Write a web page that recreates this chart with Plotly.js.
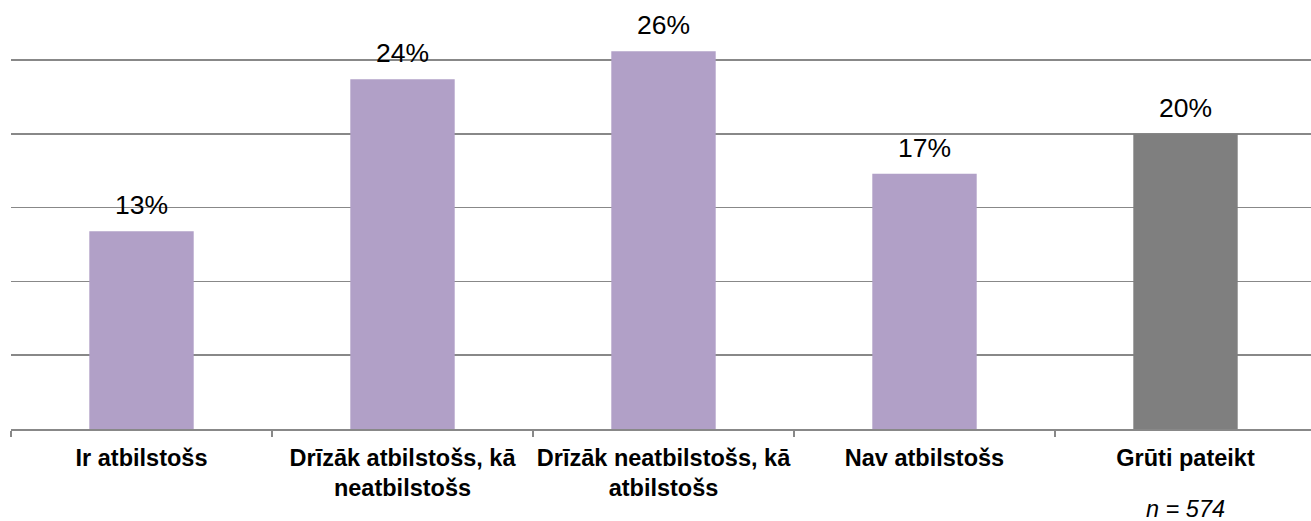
<!DOCTYPE html>
<html>
<head>
<meta charset="utf-8">
<script src="https://cdn.plot.ly/plotly-3.0.1.min.js"></script>
<style>
  html, body { margin: 0; padding: 0; overflow: hidden; background: #fff; }
  #chart { width: 1320px; height: 521px; }
</style>
</head>
<body>
<div id="chart"></div>
<script>
const categories = [
  "Ir atbilstošs",
  "Drīzāk atbilstošs, kā<br>neatbilstošs",
  "Drīzāk neatbilstošs, kā<br>atbilstošs",
  "Nav atbilstošs",
  "Grūti pateikt"
];
const values = [13.4, 23.7, 25.6, 17.3, 20.0];
const valueLabels = ["13%", "24%", "26%", "17%", "20%"];
const barColors = ["#B1A0C7", "#B1A0C7", "#B1A0C7", "#B1A0C7", "#7F7F7F"];
const sampleNote = "<i>n = 574</i>";

const FONT = "'Liberation Sans', Arial, sans-serif";

const trace = {
  type: "bar",
  x: categories,
  y: values,
  marker: { color: barColors },
  width: 0.4,
  hoverinfo: "skip"
};

const annotations = categories.map((c, i) => ({
  x: c,
  y: values[i],
  xref: "x",
  yref: "y",
  text: valueLabels[i],
  showarrow: false,
  yanchor: "bottom",
  yshift: 9,
  font: { family: FONT, size: 26.5, color: "#000" }
}));

annotations.push({
  x: categories[4],
  xref: "x",
  y: -0.186,
  yref: "paper",
  text: sampleNote,
  showarrow: false,
  xanchor: "center",
  yanchor: "middle",
  font: { family: FONT, size: 23.5, color: "#000" }
});

const layout = {
  width: 1320,
  height: 521,
  margin: { l: 11, r: 4, t: 0, b: 92 },
  paper_bgcolor: "#fff",
  plot_bgcolor: "#fff",
  showlegend: false,
  bargap: 0.6,
  font: { family: FONT, color: "#000" },
  xaxis: {
    type: "category",
    showline: true,
    linecolor: "#888888",
    linewidth: 1.5,
    ticks: "outside",
    tickson: "boundaries",
    ticklen: 6,
    tickwidth: 1.5,
    tickcolor: "#888888",
    showgrid: false,
    tickangle: 0,
    ticklabelstandoff: 7,
    tickfont: { family: FONT, size: 23.5, color: "#000", weight: "bold" },
    automargin: false
  },
  yaxis: {
    range: [0, 29.07],
    dtick: 5,
    showgrid: true,
    gridcolor: "#888888",
    gridwidth: 1.5,
    zeroline: false,
    showline: false,
    showticklabels: false,
    ticks: "",
    fixedrange: true
  },
  annotations: annotations
};

Plotly.newPlot("chart", [trace], layout, { displayModeBar: false, staticPlot: true });
</script>
</body>
</html>
